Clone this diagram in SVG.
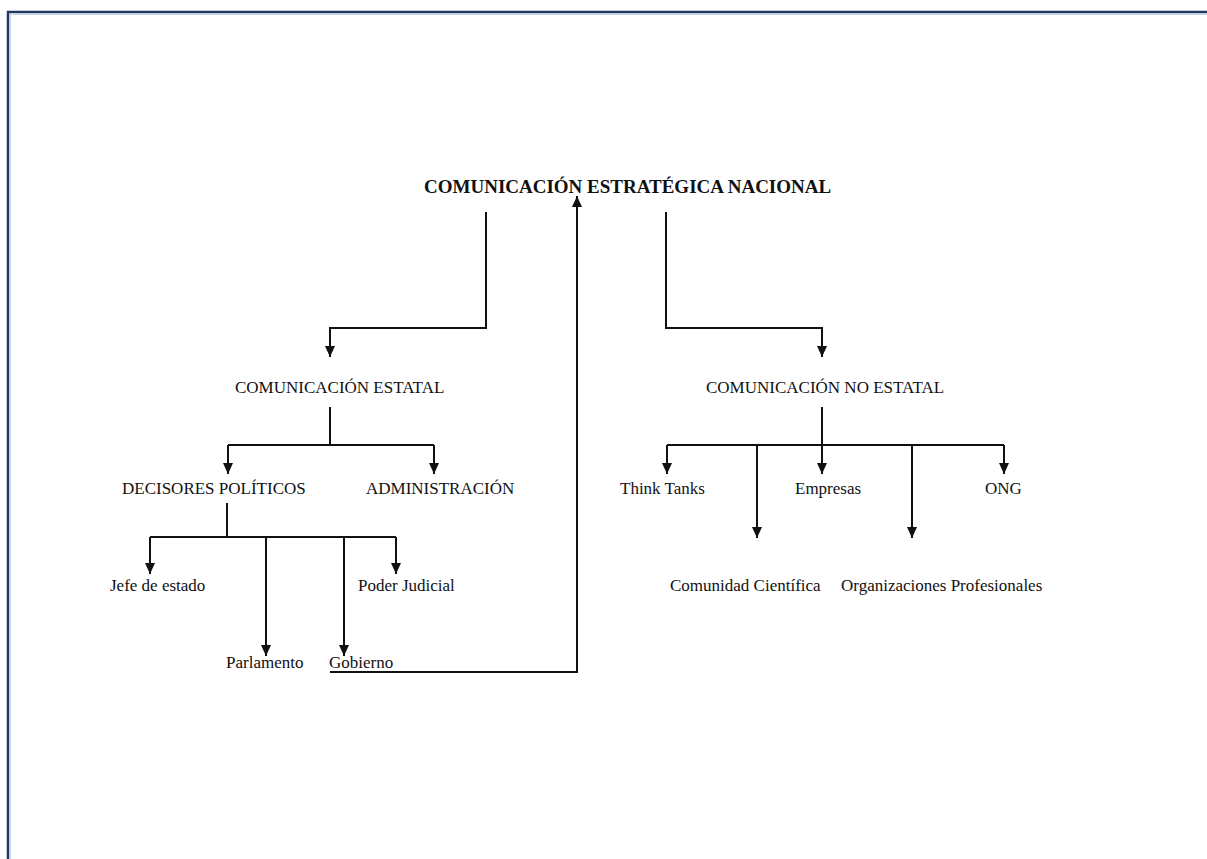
<svg xmlns="http://www.w3.org/2000/svg" width="1207" height="859" viewBox="0 0 1207 859">
<style>
.t{font-family:"Liberation Serif","Times New Roman",serif;font-size:17px;fill:#111}
.b{font-weight:bold;font-size:19px}
.c{fill:none;stroke:#111;stroke-width:2}
</style>
<defs>
<marker id="ah" markerUnits="userSpaceOnUse" markerWidth="11" markerHeight="10" refX="11" refY="5" orient="auto" viewBox="0 0 11 10">
<path d="M0,0 L11,5 L0,10 z" fill="#111"/>
</marker>
</defs>
<rect width="1207" height="859" fill="#fff"/>
<g id="frame">
<path d="M1207,12 H8 V859" fill="none" stroke="#1f3a66" stroke-width="2.5"/>
<path d="M1207,14.5 H10.5 V859" fill="none" stroke="#c9d5e8" stroke-width="1"/>
</g>
<g id="connectors">
<path class="c" d="M486,212 V328 H330 V357" marker-end="url(#ah)"/>
<path class="c" d="M666,212 V328 H822 V357" marker-end="url(#ah)"/>
<path class="c" d="M330,672 H577 V196" marker-end="url(#ah)"/>
<path class="c" d="M330,407 V445"/>
<path class="c" d="M228,445 H434"/>
<path class="c" d="M228,445 V474" marker-end="url(#ah)"/>
<path class="c" d="M434,445 V474" marker-end="url(#ah)"/>
<path class="c" d="M227,503 V537"/>
<path class="c" d="M150,537 H396"/>
<path class="c" d="M150,537 V574" marker-end="url(#ah)"/>
<path class="c" d="M396,537 V574" marker-end="url(#ah)"/>
<path class="c" d="M266,537 V656" marker-end="url(#ah)"/>
<path class="c" d="M344,537 V656" marker-end="url(#ah)"/>
<path class="c" d="M822,407 V474" marker-end="url(#ah)"/>
<path class="c" d="M667,445 H1004"/>
<path class="c" d="M667,445 V474" marker-end="url(#ah)"/>
<path class="c" d="M1004,445 V474" marker-end="url(#ah)"/>
<path class="c" d="M757,445 V538" marker-end="url(#ah)"/>
<path class="c" d="M912,445 V538" marker-end="url(#ah)"/>
</g>
<g id="n-nacional"><text class="t b" x="424" y="193">COMUNICACIÓN ESTRATÉGICA NACIONAL</text></g>
<g id="n-estatal"><text class="t" x="235" y="393">COMUNICACIÓN ESTATAL</text></g>
<g id="n-noestatal"><text class="t" x="706" y="393">COMUNICACIÓN NO ESTATAL</text></g>
<g id="n-decisores"><text class="t" x="122" y="494">DECISORES POLÍTICOS</text></g>
<g id="n-administracion"><text class="t" x="366" y="494">ADMINISTRACIÓN</text></g>
<g id="n-jefe"><text class="t" x="110" y="591">Jefe de estado</text></g>
<g id="n-poder"><text class="t" x="358" y="591">Poder Judicial</text></g>
<g id="n-parlamento"><text class="t" x="226" y="668">Parlamento</text></g>
<g id="n-gobierno"><text class="t" x="329" y="668">Gobierno</text></g>
<g id="n-think"><text class="t" x="620" y="494">Think Tanks</text></g>
<g id="n-empresas"><text class="t" x="795" y="494">Empresas</text></g>
<g id="n-ong"><text class="t" x="985" y="494">ONG</text></g>
<g id="n-comunidad"><text class="t" x="670" y="591">Comunidad Científica</text></g>
<g id="n-organizaciones"><text class="t" x="841" y="591">Organizaciones Profesionales</text></g>
</svg>
